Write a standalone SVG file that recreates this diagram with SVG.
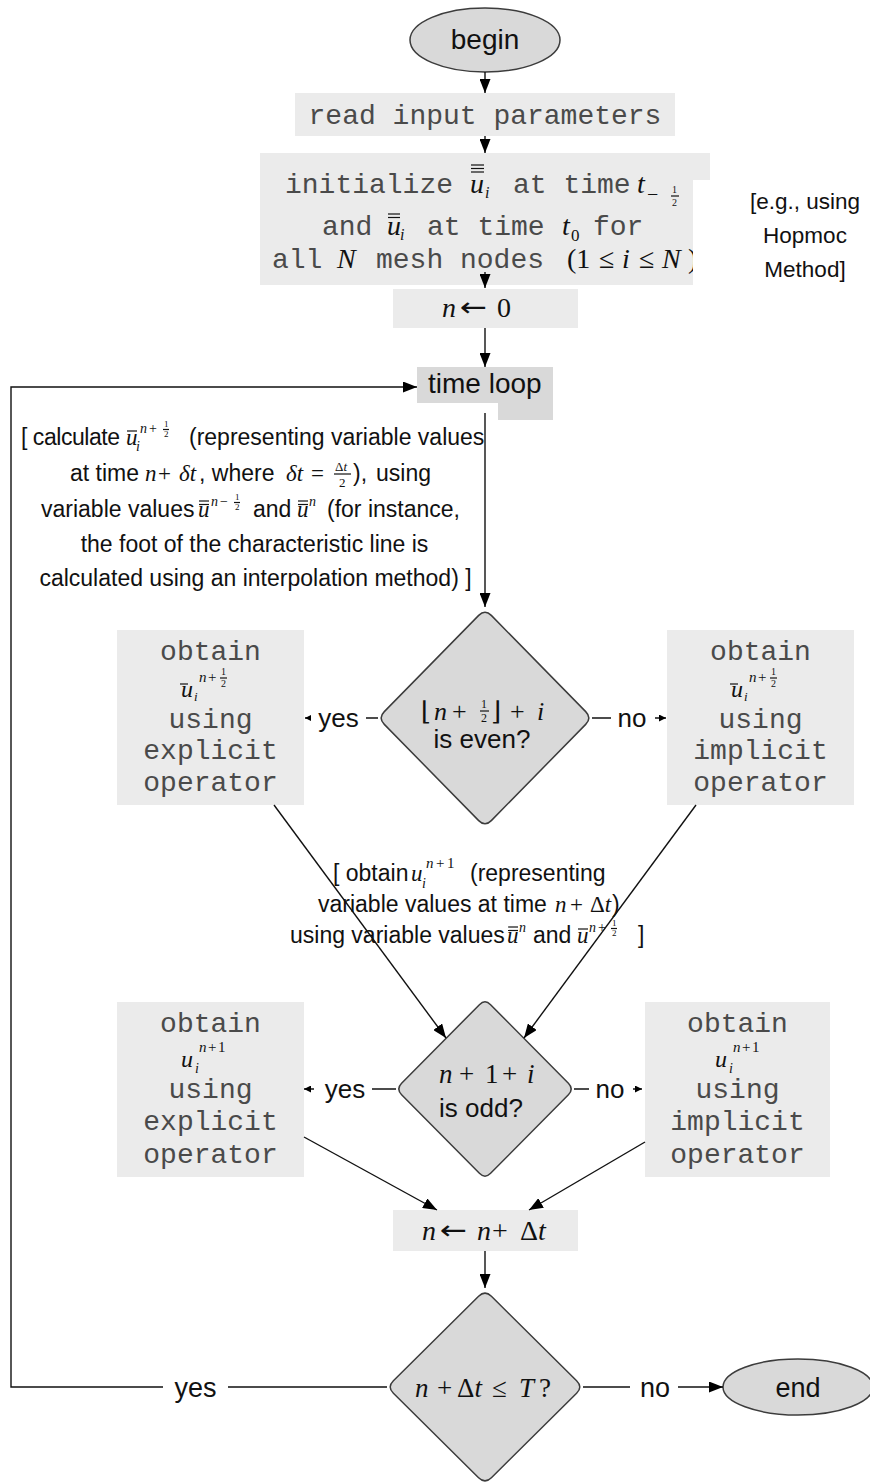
<svg xmlns="http://www.w3.org/2000/svg" width="870" height="1483" viewBox="0 0 870 1483">
<defs>
<marker id="ah" viewBox="0 0 14 11" markerWidth="14" markerHeight="11" refX="14" refY="5.5" orient="auto" markerUnits="userSpaceOnUse"><path d="M0,0 L14,5.5 L0,11 Z" fill="#000"/></marker>
<marker id="ahs" viewBox="0 0 7 7" markerWidth="7" markerHeight="7" refX="7" refY="3.5" orient="auto" markerUnits="userSpaceOnUse"><path d="M0,0 L7,3.5 L0,7 Z" fill="#000"/></marker>
<clipPath id="initclip"><rect x="260" y="153" width="433" height="140"/></clipPath>
</defs>
<style>
.term{fill:#d9d9d9;stroke:#3c3c3c;stroke-width:1.5}
.box{fill:#ebebeb}
.dark{fill:#d9d9d9}
.sans{font-family:"Liberation Sans",Arial,sans-serif;fill:#111}
.mono{font-family:"Liberation Mono","Courier New",monospace;font-size:28px;fill:#4a4a4a}
.mi{font-family:"Liberation Serif","Times New Roman",serif;font-style:italic;fill:#111}
.mr{font-family:"Liberation Serif","DejaVu Serif","Times New Roman",serif;fill:#111}
.arr{font-family:"DejaVu Sans",sans-serif;fill:#111}
.conn{fill:none;stroke:#111;stroke-width:1.4}
.bar{stroke:#111;stroke-width:1.2}
.lbl{fill:#fff}
.a23{font-size:23px}
</style>

<!-- nodes -->
<g id="begin">
<ellipse class="term" cx="485" cy="40" rx="75" ry="32"/>
<text class="sans" x="485" y="49" font-size="28" text-anchor="middle">begin</text>
</g>

<g id="read">
<rect class="box" x="295" y="93" width="380" height="43"/>
<text class="mono" x="485" y="124" text-anchor="middle">read input parameters</text>
</g>

<g id="init">
<path class="box" d="M260,153 H710 V180 H693 V285 H260 Z"/>
<text class="mono" x="285" y="193">initialize</text>
<text class="mi" x="470" y="193" font-size="28">u</text>
<line class="bar" x1="471" y1="165" x2="484" y2="165"/>
<line class="bar" x1="471" y1="168.5" x2="484" y2="168.5"/>
<line class="bar" x1="471" y1="172" x2="484" y2="172"/>
<text class="mi" x="485" y="198" font-size="16">i</text>
<text class="mono" x="513" y="193">at time</text>
<text class="mi" x="637" y="193" font-size="28">t</text>
<text class="mr" x="647" y="201" font-size="20">−</text>
<text class="mr" x="672" y="193" font-size="10">1</text>
<line class="bar" x1="671" y1="196" x2="679" y2="196" stroke-width="0.9"/>
<text class="mr" x="672" y="206" font-size="10">2</text>

<text class="mono" x="322" y="235">and</text>
<text class="mi" x="387" y="235" font-size="28">u</text>
<line class="bar" x1="388" y1="214" x2="400" y2="214"/>
<line class="bar" x1="388" y1="217.5" x2="400" y2="217.5"/>
<text class="mi" x="400" y="240" font-size="16">i</text>
<text class="mono" x="427" y="235">at time</text>
<text class="mi" x="562" y="235" font-size="28">t</text>
<text class="mr" x="571" y="241" font-size="17">0</text>
<text class="mono" x="593" y="235">for</text>

<text class="mono" x="272" y="268">all</text>
<text class="mi" x="337" y="268" font-size="28">N</text>
<text class="mono" x="376" y="268">mesh nodes</text>
<g clip-path="url(#initclip)">
<text y="268" font-size="28"><tspan class="mr" x="567">(1</tspan><tspan class="mr" x="599">≤</tspan><tspan class="mi" x="622">i</tspan><tspan class="mr" x="639">≤</tspan><tspan class="mi" x="662">N</tspan><tspan class="mr" x="688">)</tspan></text>
</g>
</g>

<g id="note_hopmoc">
<text class="sans" x="805" y="209" font-size="22.5" text-anchor="middle">[e.g., using</text>
<text class="sans" x="805" y="243" font-size="22.5" text-anchor="middle">Hopmoc</text>
<text class="sans" x="805" y="277" font-size="22.5" text-anchor="middle">Method]</text>
</g>

<g id="n0">
<rect class="box" x="393" y="289" width="185" height="39"/>
<text class="mi" x="442" y="317" font-size="28">n</text>
<text class="arr" transform="translate(460,316) scale(1.25,1)" font-size="26">←</text>
<text class="mr" x="497" y="317" font-size="28">0</text>
</g>

<g id="timeloop">
<rect class="dark" x="417" y="367" width="136" height="36"/>
<rect class="dark" x="498" y="402" width="55" height="18"/>
<text class="sans" x="428" y="393" font-size="28">time loop</text>
</g>

<g id="note_calc" class="a23">
<text class="sans" x="21" y="445" textLength="99">[ calculate</text>
<text class="mi" x="126" y="445">u</text>
<line class="bar" x1="127" y1="431" x2="137" y2="431"/>
<text class="mi" x="136" y="451" font-size="14">i</text>
<text class="mi" x="140" y="433" font-size="14">n</text>
<text class="mr" x="149" y="433" font-size="14">+</text>
<text class="mr" x="164" y="427" font-size="9">1</text>
<line class="bar" x1="163" y1="429.5" x2="169" y2="429.5" stroke-width="0.8"/>
<text class="mr" x="164" y="437" font-size="9">2</text>
<text class="sans" x="189" y="445">(representing variable values</text>

<text class="sans" x="70" y="481">at time</text>
<text class="mi" x="145" y="481">n</text>
<text class="mr" x="158" y="481">+</text>
<text class="mi" x="179" y="481">δt</text>
<text class="sans" x="199" y="481">, where</text>
<text class="mi" x="286" y="481">δt</text>
<text class="mr" x="311" y="481">=</text>
<text y="471" font-size="13"><tspan class="mr" x="335">Δ</tspan><tspan class="mi">t</tspan></text>
<line class="bar" x1="334" y1="474" x2="351" y2="474" stroke-width="0.9"/>
<text class="mr" x="339" y="487" font-size="13">2</text>
<text class="sans" x="353" y="481">),</text>
<text class="sans" x="376" y="481">using</text>

<text class="sans" x="41" y="517">variable values</text>
<text class="mi" x="198" y="517">u</text>
<line class="bar" x1="199" y1="501" x2="209" y2="501"/>
<line class="bar" x1="199" y1="504.5" x2="209" y2="504.5"/>
<text class="mi" x="211" y="506" font-size="14">n</text>
<text class="mr" x="220" y="506" font-size="14">−</text>
<text class="mr" x="235" y="500" font-size="9">1</text>
<line class="bar" x1="234" y1="502.5" x2="240" y2="502.5" stroke-width="0.8"/>
<text class="mr" x="235" y="510" font-size="9">2</text>
<text class="sans" x="253" y="517">and</text>
<text class="mi" x="297" y="517">u</text>
<line class="bar" x1="298" y1="501" x2="308" y2="501"/>
<line class="bar" x1="298" y1="504.5" x2="308" y2="504.5"/>
<text class="mi" x="309" y="506" font-size="14">n</text>
<text class="sans" x="327" y="517">(for instance,</text>

<text class="sans" x="254.5" y="552" text-anchor="middle">the foot of the characteristic line is</text>
<text class="sans" x="255.5" y="586" text-anchor="middle">calculated using an interpolation method) ]</text>
</g>

<g id="decision_even">
<path class="term" d="M478.7,615.4 Q485,609 491.3,615.4 L585.7,711.6 Q592,718 585.7,724.4 L491.3,820.6 Q485,827 478.7,820.6 L384.3,724.4 Q378,718 384.3,711.6 Z"/>
<text class="mr" x="421" y="720" font-size="26">⌊</text>
<text class="mi" x="434" y="720" font-size="26">n</text>
<text class="mr" x="452" y="720" font-size="26">+</text>
<text class="mr" x="481" y="708" font-size="12">1</text>
<line class="bar" x1="480" y1="711" x2="489" y2="711" stroke-width="0.9"/>
<text class="mr" x="481" y="722" font-size="12">2</text>
<text class="mr" x="491" y="720" font-size="26">⌋</text>
<text class="mr" x="510" y="720" font-size="26">+</text>
<text class="mi" x="537" y="720" font-size="26">i</text>
<text class="sans" x="482" y="748" font-size="26" text-anchor="middle">is even?</text>
</g>

<g id="explicit_half">
<rect class="box" x="117" y="630" width="187" height="175"/>
<text class="mono" x="210.5" y="660" text-anchor="middle">obtain</text>
<text class="mi" x="181" y="697" font-size="24">u</text>
<line class="bar" x1="180" y1="684" x2="188" y2="684"/>
<text class="mi" x="194" y="701" font-size="13">i</text>
<text class="mi" x="199" y="682" font-size="15">n</text>
<text class="mr" x="208" y="682" font-size="15">+</text>
<text class="mr" x="221" y="675" font-size="10">1</text>
<line class="bar" x1="220" y1="678" x2="227" y2="678" stroke-width="0.8"/>
<text class="mr" x="221" y="687" font-size="10">2</text>
<text class="mono" x="210.5" y="728" text-anchor="middle">using</text>
<text class="mono" x="210.5" y="759" text-anchor="middle">explicit</text>
<text class="mono" x="210.5" y="791" text-anchor="middle">operator</text>
</g>

<g id="implicit_half">
<rect class="box" x="667" y="630" width="187" height="175"/>
<text class="mono" x="760.5" y="660" text-anchor="middle">obtain</text>
<text class="mi" x="731" y="697" font-size="24">u</text>
<line class="bar" x1="730" y1="684" x2="738" y2="684"/>
<text class="mi" x="744" y="701" font-size="13">i</text>
<text class="mi" x="749" y="682" font-size="15">n</text>
<text class="mr" x="758" y="682" font-size="15">+</text>
<text class="mr" x="771" y="675" font-size="10">1</text>
<line class="bar" x1="770" y1="678" x2="777" y2="678" stroke-width="0.8"/>
<text class="mr" x="771" y="687" font-size="10">2</text>
<text class="mono" x="760.5" y="728" text-anchor="middle">using</text>
<text class="mono" x="760.5" y="759" text-anchor="middle">implicit</text>
<text class="mono" x="760.5" y="791" text-anchor="middle">operator</text>
</g>

<g id="note_obtain" class="a23">
<text class="sans" x="333" y="881">[ obtain</text>
<text class="mi" x="411" y="881">u</text>
<text class="mi" x="422" y="888" font-size="14">i</text>
<text y="868" font-size="15"><tspan class="mi" x="426">n</tspan><tspan class="mr" x="436">+</tspan><tspan class="mr" x="447">1</tspan></text>
<text class="sans" x="470" y="881">(representing</text>
<text class="sans" x="318" y="912">variable values at time</text>
<text class="mi" x="555" y="912">n</text>
<text class="mr" x="570" y="912">+</text>
<text y="912"><tspan class="mr" x="590">Δ</tspan><tspan class="mi">t</tspan></text>
<text class="sans" x="612" y="912">)</text>
<text class="sans" x="290" y="943">using variable values</text>
<text class="mi" x="507" y="943">u</text>
<line class="bar" x1="508" y1="927" x2="518" y2="927"/>
<line class="bar" x1="508" y1="930.5" x2="518" y2="930.5"/>
<text class="mi" x="519" y="932" font-size="14">n</text>
<text class="sans" x="533" y="943">and</text>
<text class="mi" x="577" y="943">u</text>
<line class="bar" x1="578" y1="929" x2="588" y2="929"/>
<text class="mi" x="589" y="932" font-size="14">n</text>
<text class="mr" x="598" y="932" font-size="14">+</text>
<text class="mr" x="612" y="926" font-size="9">1</text>
<line class="bar" x1="611" y1="928.5" x2="617" y2="928.5" stroke-width="0.8"/>
<text class="mr" x="612" y="936" font-size="9">2</text>
<text class="sans" x="638" y="943">]</text>
</g>

<g id="decision_odd">
<path class="term" d="M479.4,1004.7 Q485,999 490.6,1004.7 L568.4,1083.3 Q574,1089 568.4,1094.7 L490.6,1173.3 Q485,1179 479.4,1173.3 L401.6,1094.7 Q396,1089 401.6,1083.3 Z"/>
<text y="1083" font-size="27"><tspan class="mi" x="439">n</tspan><tspan class="mr" x="459">+</tspan><tspan class="mr" x="485">1</tspan><tspan class="mr" x="502">+</tspan><tspan class="mi" x="527">i</tspan></text>
<text class="sans" x="481" y="1117" font-size="26" text-anchor="middle">is odd?</text>
</g>

<g id="explicit_full">
<rect class="box" x="117" y="1002" width="187" height="175"/>
<text class="mono" x="210.5" y="1032" text-anchor="middle">obtain</text>
<text class="mi" x="181" y="1067" font-size="24">u</text>
<text class="mi" x="195" y="1073" font-size="14">i</text>
<text y="1052" font-size="15"><tspan class="mi" x="199">n</tspan><tspan class="mr" x="208">+</tspan><tspan class="mr" x="218">1</tspan></text>
<text class="mono" x="210.5" y="1098" text-anchor="middle">using</text>
<text class="mono" x="210.5" y="1130" text-anchor="middle">explicit</text>
<text class="mono" x="210.5" y="1163" text-anchor="middle">operator</text>
</g>

<g id="implicit_full">
<rect class="box" x="645" y="1002" width="185" height="175"/>
<text class="mono" x="737.5" y="1032" text-anchor="middle">obtain</text>
<text class="mi" x="715" y="1067" font-size="24">u</text>
<text class="mi" x="729" y="1073" font-size="14">i</text>
<text y="1052" font-size="15"><tspan class="mi" x="733">n</tspan><tspan class="mr" x="742">+</tspan><tspan class="mr" x="752">1</tspan></text>
<text class="mono" x="737.5" y="1098" text-anchor="middle">using</text>
<text class="mono" x="737.5" y="1130" text-anchor="middle">implicit</text>
<text class="mono" x="737.5" y="1163" text-anchor="middle">operator</text>
</g>

<g id="increment">
<rect class="box" x="393" y="1210" width="185" height="41"/>
<text class="mi" x="422" y="1240" font-size="28">n</text>
<text class="arr" transform="translate(440,1239) scale(1.25,1)" font-size="26">←</text>
<text y="1240" font-size="28"><tspan class="mi" x="477">n</tspan><tspan class="mr" x="492">+</tspan><tspan class="mr" x="520">Δ</tspan><tspan class="mi">t</tspan></text>
</g>

<g id="decision_end">
<path class="term" d="M478.6,1296.3 Q485,1290 491.4,1296.3 L576.6,1380.7 Q583,1387 576.6,1393.3 L491.4,1477.7 Q485,1484 478.6,1477.7 L393.4,1393.3 Q387,1387 393.4,1380.7 Z"/>
<text y="1397" font-size="27"><tspan class="mi" x="415">n</tspan><tspan class="mr" x="437">+</tspan><tspan class="mr" x="457">Δ</tspan><tspan class="mi">t</tspan><tspan class="mr" x="492">≤</tspan><tspan class="mi" x="519">T</tspan><tspan class="mr" x="539">?</tspan></text>
</g>

<g id="end">
<ellipse class="term" cx="798" cy="1387" rx="75" ry="28"/>
<text class="sans" x="798" y="1397" font-size="27" text-anchor="middle">end</text>
</g>

<!-- connectors -->
<g id="connectors" class="conn">
<path d="M485,72 V93" marker-end="url(#ah)"/>
<path d="M485,136 V153" marker-end="url(#ah)"/>
<path d="M485,272 V288" marker-end="url(#ah)"/>
<path d="M485,328 V367" marker-end="url(#ah)"/>
<path d="M485,413 V607" marker-end="url(#ah)"/>
<path d="M378,718 H305" marker-end="url(#ahs)"/>
<path d="M592,718 H666" marker-end="url(#ahs)"/>
<path d="M274,805 L446,1038" marker-end="url(#ah)"/>
<path d="M696,805 L524,1038" marker-end="url(#ah)"/>
<path d="M396,1089 H304" marker-end="url(#ahs)"/>
<path d="M574,1089 H642" marker-end="url(#ahs)"/>
<path d="M304,1137 L437,1210" marker-end="url(#ah)"/>
<path d="M645,1142 L529,1210" marker-end="url(#ah)"/>
<path d="M485,1251 V1288" marker-end="url(#ah)"/>
<path d="M387,1387 H11 V387 H417" marker-end="url(#ah)"/>
<path d="M583,1387 H723" marker-end="url(#ah)"/>
</g>

<g id="labels">
<rect class="lbl" x="311" y="702" width="55" height="30"/>
<text class="sans" x="338.5" y="727" font-size="26" text-anchor="middle">yes</text>
<rect class="lbl" x="611" y="702" width="44" height="30"/>
<text class="sans" x="632" y="727" font-size="26" text-anchor="middle">no</text>
<rect class="lbl" x="314" y="1073" width="58" height="30"/>
<text class="sans" x="345" y="1098" font-size="26" text-anchor="middle">yes</text>
<rect class="lbl" x="589" y="1073" width="44" height="30"/>
<text class="sans" x="610" y="1098" font-size="26" text-anchor="middle">no</text>
<rect class="lbl" x="163" y="1371" width="65" height="32"/>
<text class="sans" x="195.5" y="1397" font-size="27" text-anchor="middle">yes</text>
<rect class="lbl" x="630" y="1371" width="48" height="32"/>
<text class="sans" x="655" y="1397" font-size="27" text-anchor="middle">no</text>
</g>
</svg>
